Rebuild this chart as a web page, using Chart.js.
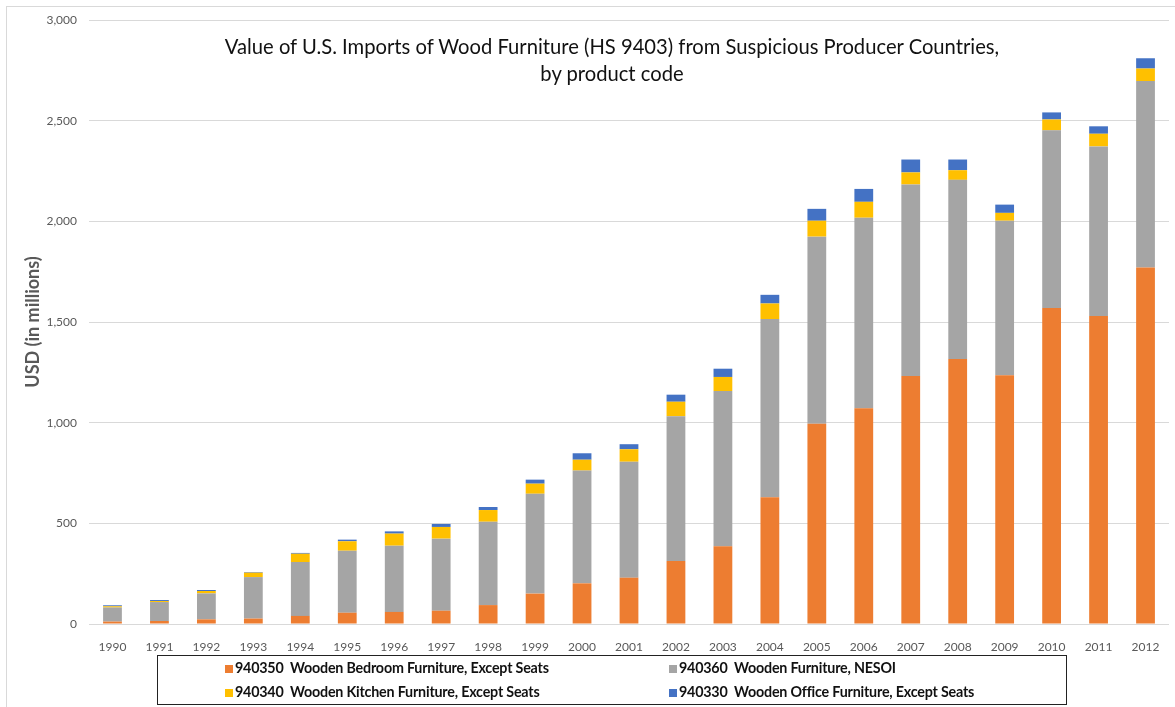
<!DOCTYPE html>
<html>
<head>
<meta charset="utf-8">
<script src="https://cdn.jsdelivr.net/npm/chart.js@4.4.1/dist/chart.umd.min.js"></script>
<style>
  body { margin: 0; background: #fff; font-family: Lato, "Open Sans", sans-serif; }
  #wrap { position: relative; width: 1175px; height: 707px; overflow: hidden; }
  #frame { position: absolute; left: 6px; top: 6px; width: 1180px; height: 720px; border: 1px solid #d9d9d9; }
  #chart { position: absolute; left: 0; top: 0; }
  #title { position: absolute; left: 112px; top: 33px; width: 1000px; text-align: center;
           font-size: 20.2px; line-height: 27px; color: #111; }
  #legend { position: absolute; left: 157px; top: 655px; width: 908px; height: 48px; border: 1px solid #222; }
  .item { position: absolute; font-size: 14.3px; font-weight: bold; color: #111; line-height: 16px;
          white-space: pre; transform: translateY(-50%); letter-spacing: -0.2px; }
  .item i { display: inline-block; width: 8px; height: 8px; margin-right: 2px; vertical-align: 0; }
</style>
</head>
<body>
<div id="wrap">
  <div id="frame"></div>
  <canvas id="chart" width="1175" height="707"></canvas>
  <div id="title">Value of U.S. Imports of Wood Furniture (HS 9403) from Suspicious Producer Countries,<br>by product code</div>
  <div id="legend"></div>
</div>
<script>
const years = ['1990','1991','1992','1993','1994','1995','1996','1997','1998','1999','2000','2001',
               '2002','2003','2004','2005','2006','2007','2008','2009','2010','2011','2012'];

// values in USD millions
const bedroom = [12, 15, 23, 27, 40, 56, 60, 66, 94, 151, 202, 230, 313, 386, 629, 994, 1072, 1232, 1316, 1235, 1570, 1530, 1771];
const nesoi   = [70, 94, 129, 206, 268, 308, 329, 358, 414, 496, 560, 576, 719, 771, 886, 930, 946, 951, 890, 768, 882, 842, 926];
const kitchen = [6, 5, 12, 22, 41, 47, 60, 58, 58, 50, 54, 62, 72, 70, 77, 79, 79, 60, 48, 39, 54, 63, 62];
const office  = [5, 5, 5, 3, 4, 8, 11, 15, 15, 20, 32, 25, 35, 41, 43, 59, 64, 64, 53, 41, 35, 37, 51];

const seriesLabels = [
    '940350  Wooden Bedroom Furniture, Except Seats',
    '940360  Wooden Furniture, NESOI',
    '940340  Wooden Kitchen Furniture, Except Seats',
    '940330  Wooden Office Furniture, Except Seats'
];
const colors = ['#ED7D31', '#A5A5A5', '#FFC000', '#4472C4'];

const datasets = [bedroom, nesoi, kitchen, office].map((d, i) => ({
    label: seriesLabels[i],
    data: d,
    backgroundColor: colors[i],
    borderWidth: 0,
    barPercentage: 0.8,
    categoryPercentage: 0.5
}));

new Chart(document.getElementById('chart'), {
    type: 'bar',
    data: { labels: years, datasets: datasets },
    options: {
        responsive: false,
        animation: false,
        layout: { padding: { top: 20, bottom: 53, left: 0, right: 6 } },
        plugins: { legend: { display: false }, tooltip: { enabled: false } },
        scales: {
            x: {
                stacked: true,
                grid: { display: false },
                border: { display: false },
                ticks: { color: '#595959', font: { family: 'Lato', size: 12 }, padding: 8 },
                afterFit: s => { s.height = 30; }
            },
            y: {
                stacked: true,
                min: 0,
                max: 3000,
                ticks: { stepSize: 500, color: '#595959', font: { family: 'Lato', size: 12 }, padding: 12 },
                grid: { color: '#d9d9d9', drawTicks: false },
                border: { display: false },
                title: {
                    display: true,
                    text: 'USD (in millions)',
                    color: '#595959',
                    font: { family: 'Lato', size: 18, weight: 'bold' },
                    padding: { top: 22, bottom: 0 }
                },
                afterFit: s => { s.width = 89; }
            }
        }
    }
});

// legend box, two columns
const legend = document.getElementById('legend');
const pos = [[67, 12], [511, 12], [67, 36], [511, 36]];
seriesLabels.forEach((txt, i) => {
    const el = document.createElement('div');
    el.className = 'item';
    el.style.left = pos[i][0] + 'px';
    el.style.top = pos[i][1] + 'px';
    el.innerHTML = '<i style="background:' + colors[i] + '"></i>' + txt;
    legend.appendChild(el);
});
</script>
</body>
</html>
